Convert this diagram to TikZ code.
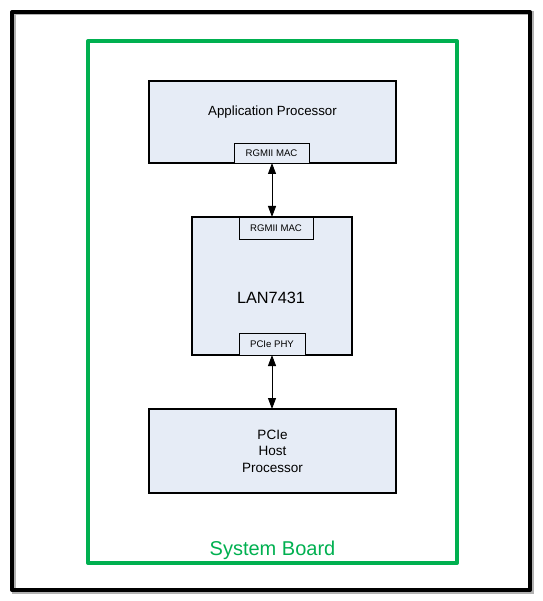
\documentclass[tikz,border=0pt]{standalone}
\usepackage{fontspec}
\setmainfont{Liberation Sans}
\usetikzlibrary{arrows.meta}

\definecolor{boardgreen}{RGB}{0,176,80}
\definecolor{chipfill}{RGB}{230,236,246}

\begin{document}
\begin{tikzpicture}[x=1pt, y=-1pt,
		chip/.style={draw, line width=1.3pt, fill=chipfill, inner sep=0pt, outer sep=0pt},
		port/.style={draw, line width=0.9pt, fill=chipfill, inner sep=0pt, outer sep=0pt, font=\fontsize{9.6}{11}\selectfont},
		link/.style={{Triangle[width=8pt,length=11pt]}-{Triangle[width=8pt,length=11pt]}, line width=0.9pt}]
				
				\useasboundingbox (0,0) rectangle (542,601);
				
				% frame and board
				\draw[gray!60, line width=4pt] (13.5,13.5) rectangle (531.5,591.5);
				\draw[black, line width=4pt, line join=round] (12,12) rectangle (530,590);
				\draw[boardgreen, line width=4pt, line join=round] (88,41) rectangle (457,563);
				\node[anchor=base, text=boardgreen, font=\fontsize{20}{22}\selectfont] (Board) at (272.5,555.5) {System Board};
				
				% chips
				\node[chip, minimum width=247pt, minimum height=82pt] (AP) at (272.5,122) {};
				\node[port, minimum width=75pt, minimum height=20pt] (APMac) at (271.5,153) {RGMII MAC};
				\node[anchor=base, font=\fontsize{13.3}{15}\selectfont] (APName) at (272.5,116) {Application Processor};
				
				\node[chip, minimum width=160pt, minimum height=138pt] (LAN) at (272,286) {};
				\node[port, minimum width=74pt, minimum height=22pt] (LANMac) at (276,228) {RGMII MAC};
				\node[port, minimum width=66pt, minimum height=22pt] (LANPhy) at (272,344) {PCIe PHY};
				\node[anchor=base, font=\fontsize{16.3}{18}\selectfont] (LANName) at (271,303) {LAN7431};
				
				\node[chip, minimum width=247pt, minimum height=84pt] (Host) at (272.5,451) {};
				\node[align=center, font=\fontsize{13.5}{16.5}\selectfont] (HostName) at (272.5,451) {PCIe\\Host\\Processor};
				
				% links
				\draw[link] (APMac.south -| 272,0) -- (LAN.north -| 272,0);
				\draw[link] (LANPhy.south) -- (Host.north -| LANPhy.south);
				
			\end{tikzpicture}
\end{document}
